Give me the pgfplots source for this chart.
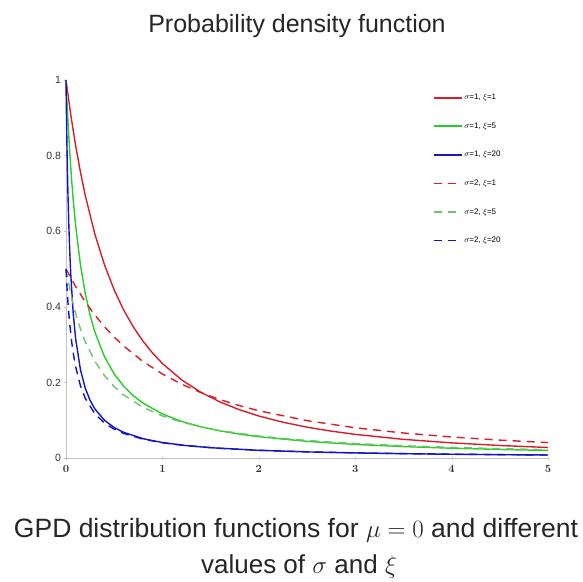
\documentclass[border=0pt]{standalone}
\usepackage{fontspec}
\setmainfont{Liberation Sans}
\usepackage{pgfplots}
\pgfplotsset{compat=1.18}
\definecolor{myred}{RGB}{214,30,40}
\definecolor{mygreen}{RGB}{40,205,40}
\definecolor{myblue}{RGB}{20,20,195}
\definecolor{mygreend}{RGB}{110,195,110}
\definecolor{myaxis}{RGB}{195,195,195}
\begin{document}
\begin{tikzpicture}
\useasboundingbox (-66pt,-123pt) rectangle (517pt,458pt);
\begin{axis}[
  at={(0pt,0pt)}, anchor=origin,
  scale only axis, width=482pt, height=378pt,
  xmin=0, xmax=5, ymin=0, ymax=1,
  axis lines=left, axis line style={myaxis, line width=0.8pt, -},
  xtick={0,1,2,3,4,5}, ytick={0,0.2,0.4,0.6,0.8,1},
  yticklabels={0,0.2,0.4,0.6,0.8,1},
  major tick length=3pt, tick style={myaxis},
  tick label style={font=\fontsize{10.5}{10.5}\selectfont\boldmath, text=black!80},
  xticklabel style={yshift=-2pt},
  clip=false,
  legend style={at={(0.761,0.967)}, anchor=north west, draw=none, fill=none,
    font=\fontsize{8}{8}\selectfont, row sep=18.5pt, inner sep=0pt,
    nodes={inner sep=1.5pt}},
  legend cell align=left,
  legend image code/.code={\draw[mark repeat=2,mark phase=2,#1] plot coordinates {(0pt,0pt) (14pt,0pt) (28pt,0pt)};},
  legend image post style={line width=1.8pt},
]
\addplot[myred, line width=1.4pt] coordinates {(0,1) (0.05,0.9070) (0.1,0.8264) (0.15,0.7561) (0.2,0.6944) (0.3,0.5917) (0.4,0.5102) (0.5,0.4444) (0.6,0.3906) (0.7,0.3460) (0.8,0.3086) (0.9,0.2770) (1,0.25) (1.2,0.2066) (1.4,0.1736) (1.6,0.1479) (1.8,0.1276) (2,0.1111) (2.25,0.0947) (2.5,0.0816) (2.75,0.0711) (3,0.0625) (3.5,0.0494) (4,0.04) (4.5,0.0331) (5,0.0278)};
\addlegendentry{$\sigma$=1, $\xi$=1}
\addplot[mygreen, line width=1.4pt] coordinates {(0,1) (0.01,0.9431) (0.02,0.8919) (0.04,0.8035) (0.06,0.7299) (0.08,0.6678) (0.1,0.6147) (0.15,0.5109) (0.2,0.4353) (0.25,0.3779) (0.3,0.3330) (0.4,0.2676) (0.5,0.2224) (0.6,0.1895) (0.7,0.1645) (0.8,0.1450) (1,0.1165) (1.2,0.0968) (1.4,0.0825) (1.6,0.0716) (1.8,0.0631) (2,0.0563) (2.5,0.0440) (3,0.0359) (3.5,0.0302) (4,0.0259) (4.5,0.0226) (5,0.0200)};
\addlegendentry{$\sigma$=1, $\xi$=5}
\addplot[myblue, line width=1.4pt] coordinates {(0,1) (0.0025,0.9501) (0.005,0.9048) (0.01,0.8258) (0.015,0.7592) (0.02,0.7024) (0.03,0.6105) (0.04,0.5395) (0.05,0.4830) (0.075,0.3821) (0.1,0.3155) (0.15,0.2333) (0.2,0.1845) (0.25,0.1524) (0.3,0.1296) (0.4,0.0996) (0.5,0.0806) (0.6,0.0677) (0.8,0.0510) (1,0.0409) (1.25,0.0327) (1.5,0.0272) (2,0.0203) (2.5,0.0161) (3,0.0134) (3.5,0.0114) (4,0.0099) (4.5,0.0088) (5,0.0079)};
\addlegendentry{$\sigma$=1, $\xi$=20}
\addplot[myred, line width=1.4pt, dash pattern=on 8pt off 6pt] coordinates {(0,0.5) (0.1,0.4535) (0.2,0.4132) (0.3,0.3781) (0.4,0.3472) (0.5,0.32) (0.6,0.2959) (0.8,0.2551) (1,0.2222) (1.2,0.1953) (1.4,0.1730) (1.6,0.1543) (1.8,0.1385) (2,0.125) (2.5,0.0988) (3,0.08) (3.5,0.0661) (4,0.0556) (4.5,0.0473) (5,0.0408)};
\addlegendentry{$\sigma$=2, $\xi$=1}
\addplot[mygreend, line width=1.4pt, dash pattern=on 8pt off 6pt] coordinates {(0,0.5) (0.02,0.4716) (0.04,0.4460) (0.08,0.4018) (0.12,0.3650) (0.16,0.3339) (0.2,0.3074) (0.3,0.2555) (0.4,0.2177) (0.5,0.1890) (0.6,0.1665) (0.8,0.1338) (1,0.1112) (1.2,0.0948) (1.4,0.0823) (1.6,0.0725) (2,0.0583) (2.4,0.0484) (2.8,0.0413) (3.2,0.0358) (3.6,0.0316) (4,0.0282) (4.5,0.0247) (5,0.0220)};
\addlegendentry{$\sigma$=2, $\xi$=5}
\addplot[myblue, line width=1.4pt, dash pattern=on 8pt off 6pt] coordinates {(0,0.5) (0.005,0.4751) (0.01,0.4524) (0.02,0.4129) (0.03,0.3796) (0.04,0.3512) (0.06,0.3053) (0.08,0.2698) (0.1,0.2415) (0.15,0.1911) (0.2,0.1578) (0.3,0.1167) (0.4,0.0923) (0.5,0.0762) (0.6,0.0648) (0.8,0.0498) (1,0.0403) (1.2,0.0339) (1.6,0.0255) (2,0.0205) (2.5,0.0164) (3,0.0136) (3.5,0.0116) (4,0.0102) (4.5,0.0090) (5,0.0080)};
\addlegendentry{$\sigma$=2, $\xi$=20}
\end{axis}
\node[font=\fontsize{25}{25}\selectfont, text=black!85, anchor=base] at (231pt,425pt) {Probability density function};
\node[font=\fontsize{26.5}{26.5}\selectfont, text=black!85, anchor=base] at (230pt,-79pt)
  {GPD distribution functions for $\mu=0$ and different};
\node[font=\fontsize{26}{26}\selectfont, text=black!85, anchor=base] at (233pt,-115pt)
  {values of $\sigma$ and $\xi$};
\end{tikzpicture}
\end{document}
